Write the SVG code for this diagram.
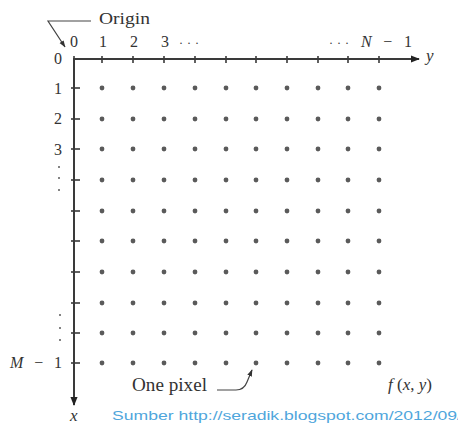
<svg xmlns="http://www.w3.org/2000/svg" width="458" height="432" viewBox="0 0 458 432">
<style>
.lb text{fill:#333;}
.d{font-size:16px;}
.i{font-style:italic;}
.ax{stroke:#3a3a3a;stroke-width:2;fill:none;}
.tk{stroke:#3a3a3a;stroke-width:1.6;}
.ld{stroke:#444;stroke-width:1.2;fill:none;}
.px{fill:#5a5a5a;}
</style>
<defs>
<marker id="ah" viewBox="0 0 10 10" refX="9" refY="5" markerWidth="7" markerHeight="7" orient="auto" markerUnits="userSpaceOnUse">
<path d="M0,1.5 L10,5 L0,8.5 Z" fill="#333"/>
</marker>
<marker id="ax" viewBox="0 0 10 10" refX="9" refY="5" markerWidth="9" markerHeight="9" orient="auto" markerUnits="userSpaceOnUse">
<path d="M0,1 L10,5 L0,9 Z" fill="#222"/>
</marker>
<circle id="dot" r="2.4" class="px"/>
</defs>
<rect width="458" height="432" fill="#fff"/>

<g id="connectors">
<line id="y-axis" class="ax" x1="73" y1="59" x2="419" y2="59" marker-end="url(#ax)"/>
<line id="x-axis" class="ax" x1="74" y1="58" x2="74" y2="405" marker-end="url(#ax)"/>
<g id="ticks-top">
<line class="tk" x1="74" y1="56" x2="74" y2="63"/>
<line class="tk" x1="102" y1="56" x2="102" y2="63"/>
<line class="tk" x1="133" y1="56" x2="133" y2="63"/>
<line class="tk" x1="164" y1="56" x2="164" y2="63"/>
<line class="tk" x1="195" y1="56" x2="195" y2="63"/>
<line class="tk" x1="226" y1="56" x2="226" y2="63"/>
<line class="tk" x1="256" y1="56" x2="256" y2="63"/>
<line class="tk" x1="287" y1="56" x2="287" y2="63"/>
<line class="tk" x1="318" y1="56" x2="318" y2="63"/>
<line class="tk" x1="348" y1="56" x2="348" y2="63"/>
<line class="tk" x1="379" y1="56" x2="379" y2="63"/>
</g>
<g id="ticks-left">
<line class="tk" x1="71" y1="88" x2="80" y2="88"/>
<line class="tk" x1="71" y1="119" x2="80" y2="119"/>
<line class="tk" x1="71" y1="149" x2="80" y2="149"/>
<line class="tk" x1="71" y1="180" x2="80" y2="180"/>
<line class="tk" x1="71" y1="211" x2="80" y2="211"/>
<line class="tk" x1="71" y1="241" x2="80" y2="241"/>
<line class="tk" x1="71" y1="272" x2="80" y2="272"/>
<line class="tk" x1="71" y1="303" x2="80" y2="303"/>
<line class="tk" x1="71" y1="333" x2="80" y2="333"/>
<line class="tk" x1="71" y1="363" x2="80" y2="363"/>
</g>
<polyline id="origin-leader" class="ld" points="91,21 48,21 65,47" marker-end="url(#ah)"/>
<path id="pixel-leader" class="ld" d="M217,390 L236,390 Q244,390 247,382 L252,370" marker-end="url(#ah)"/>
</g>

<g id="pixels">
<g id="r0"><use href="#dot" x="102" y="88"/><use href="#dot" x="133" y="88"/><use href="#dot" x="164" y="88"/><use href="#dot" x="195" y="88"/><use href="#dot" x="226" y="88"/><use href="#dot" x="256" y="88"/><use href="#dot" x="287" y="88"/><use href="#dot" x="318" y="88"/><use href="#dot" x="348" y="88"/><use href="#dot" x="379" y="88"/></g>
<g id="r1"><use href="#dot" x="102" y="119"/><use href="#dot" x="133" y="119"/><use href="#dot" x="164" y="119"/><use href="#dot" x="195" y="119"/><use href="#dot" x="226" y="119"/><use href="#dot" x="256" y="119"/><use href="#dot" x="287" y="119"/><use href="#dot" x="318" y="119"/><use href="#dot" x="348" y="119"/><use href="#dot" x="379" y="119"/></g>
<g id="r2"><use href="#dot" x="102" y="149"/><use href="#dot" x="133" y="149"/><use href="#dot" x="164" y="149"/><use href="#dot" x="195" y="149"/><use href="#dot" x="226" y="149"/><use href="#dot" x="256" y="149"/><use href="#dot" x="287" y="149"/><use href="#dot" x="318" y="149"/><use href="#dot" x="348" y="149"/><use href="#dot" x="379" y="149"/></g>
<g id="r3"><use href="#dot" x="102" y="180"/><use href="#dot" x="133" y="180"/><use href="#dot" x="164" y="180"/><use href="#dot" x="195" y="180"/><use href="#dot" x="226" y="180"/><use href="#dot" x="256" y="180"/><use href="#dot" x="287" y="180"/><use href="#dot" x="318" y="180"/><use href="#dot" x="348" y="180"/><use href="#dot" x="379" y="180"/></g>
<g id="r4"><use href="#dot" x="102" y="211"/><use href="#dot" x="133" y="211"/><use href="#dot" x="164" y="211"/><use href="#dot" x="195" y="211"/><use href="#dot" x="226" y="211"/><use href="#dot" x="256" y="211"/><use href="#dot" x="287" y="211"/><use href="#dot" x="318" y="211"/><use href="#dot" x="348" y="211"/><use href="#dot" x="379" y="211"/></g>
<g id="r5"><use href="#dot" x="102" y="241"/><use href="#dot" x="133" y="241"/><use href="#dot" x="164" y="241"/><use href="#dot" x="195" y="241"/><use href="#dot" x="226" y="241"/><use href="#dot" x="256" y="241"/><use href="#dot" x="287" y="241"/><use href="#dot" x="318" y="241"/><use href="#dot" x="348" y="241"/><use href="#dot" x="379" y="241"/></g>
<g id="r6"><use href="#dot" x="102" y="272"/><use href="#dot" x="133" y="272"/><use href="#dot" x="164" y="272"/><use href="#dot" x="195" y="272"/><use href="#dot" x="226" y="272"/><use href="#dot" x="256" y="272"/><use href="#dot" x="287" y="272"/><use href="#dot" x="318" y="272"/><use href="#dot" x="348" y="272"/><use href="#dot" x="379" y="272"/></g>
<g id="r7"><use href="#dot" x="102" y="303"/><use href="#dot" x="133" y="303"/><use href="#dot" x="164" y="303"/><use href="#dot" x="195" y="303"/><use href="#dot" x="226" y="303"/><use href="#dot" x="256" y="303"/><use href="#dot" x="287" y="303"/><use href="#dot" x="318" y="303"/><use href="#dot" x="348" y="303"/><use href="#dot" x="379" y="303"/></g>
<g id="r8"><use href="#dot" x="102" y="333"/><use href="#dot" x="133" y="333"/><use href="#dot" x="164" y="333"/><use href="#dot" x="195" y="333"/><use href="#dot" x="226" y="333"/><use href="#dot" x="256" y="333"/><use href="#dot" x="287" y="333"/><use href="#dot" x="318" y="333"/><use href="#dot" x="348" y="333"/><use href="#dot" x="379" y="333"/></g>
<g id="r9"><use href="#dot" x="102" y="363"/><use href="#dot" x="133" y="363"/><use href="#dot" x="164" y="363"/><use href="#dot" x="195" y="363"/><use href="#dot" x="226" y="363"/><use href="#dot" x="256" y="363"/><use href="#dot" x="287" y="363"/><use href="#dot" x="318" y="363"/><use href="#dot" x="348" y="363"/><use href="#dot" x="379" y="363"/></g>
</g>

<g id="labels" class="lb" font-family="Liberation Serif, Times New Roman, serif">
<text id="origin" x="99" y="24" font-size="17" textLength="51" lengthAdjust="spacingAndGlyphs">Origin</text>
<g id="col-labels" class="d" text-anchor="middle">
<text x="74" y="47">0</text>
<text x="103" y="47">1</text>
<text x="134" y="47">2</text>
<text x="165" y="47">3</text>
<text x="191" y="47" font-size="12" letter-spacing="4">···</text>
<text x="341" y="47" font-size="12" letter-spacing="4">···</text>
</g>
<text id="n-1" class="d" x="361" y="47" textLength="51" lengthAdjust="spacing"><tspan class="i">N</tspan> − 1</text>
<text id="y-label" class="i" x="426" y="61" font-size="17">y</text>
<g id="row-labels" class="d" text-anchor="middle">
<text x="58" y="64">0</text>
<text x="58" y="94">1</text>
<text x="58" y="124">2</text>
<text x="58" y="155">3</text>
</g>
<g id="vdots" class="px">
<circle cx="59" cy="167" r="1"/><circle cx="59" cy="178" r="1"/><circle cx="59" cy="190" r="1"/>
<circle cx="60" cy="315" r="1"/><circle cx="60" cy="328" r="1"/><circle cx="60" cy="340" r="1"/>
</g>
<text id="m-1" class="d" x="10" y="368" textLength="52" lengthAdjust="spacing"><tspan class="i">M</tspan> − 1</text>
<text id="x-label" class="i" x="70" y="421" font-size="17">x</text>
<text id="one-pixel" x="132" y="391" font-size="18" textLength="75" lengthAdjust="spacingAndGlyphs">One pixel</text>
<text id="fxy" x="388" y="390" font-size="17"><tspan class="i">f</tspan> (<tspan class="i">x</tspan>, <tspan class="i">y</tspan>)</text>
</g>
<text id="watermark" x="112" y="420" font-family="Liberation Sans, Arial, sans-serif" font-size="13" fill="#4fa6dc" textLength="350" lengthAdjust="spacingAndGlyphs">Sumber http://seradik.blogspot.com/2012/09/</text>
</svg>
